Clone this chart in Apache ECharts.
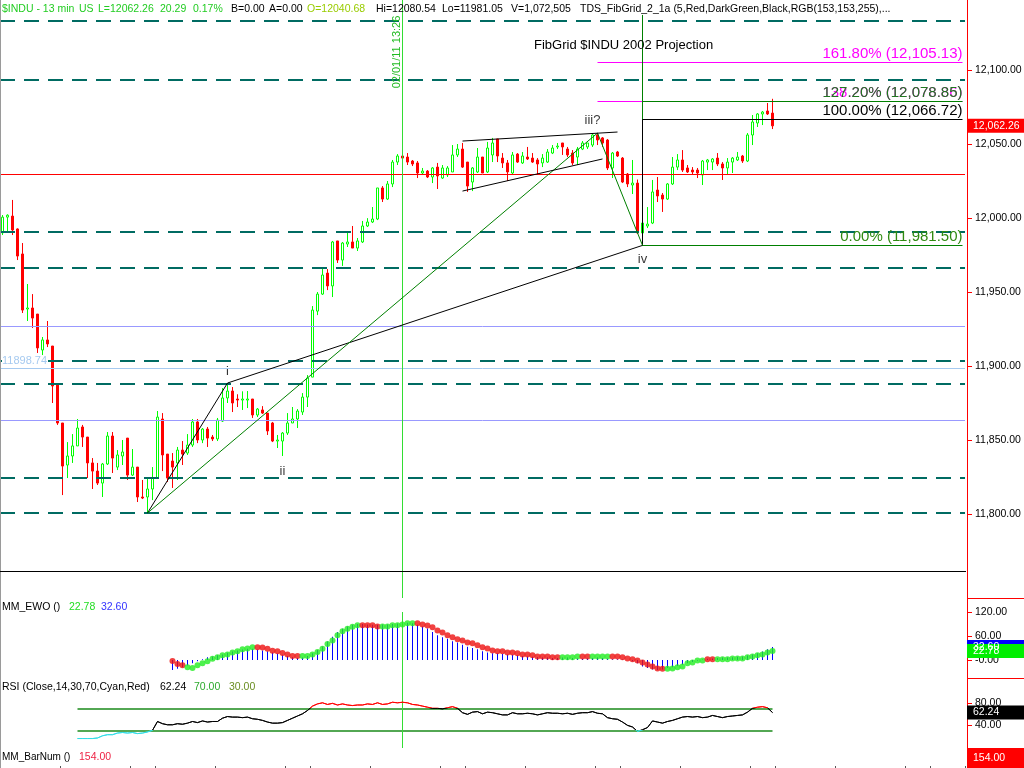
<!DOCTYPE html>
<html><head><meta charset="utf-8">
<script src="https://cdn.jsdelivr.net/npm/echarts@6/dist/echarts.min.js"></script>
<style>html,body{margin:0;padding:0;background:#fff;}#c{width:1024px;height:768px;}</style>
</head><body><div id="c"></div>
<script>
const FONT = '"Liberation Sans", Arial, sans-serif';
// category slots (bar numbers); bars 0..154 carry data
const slots = Array.from({length: 193}, (_, k) => String(k));

const open = [
11990.0,12000.6,12001.3,11992.6,11975.7,11938.5,11939.2,11935.1,11910.8,11917.6,
11913.5,11887.2,11861.5,11833.1,11839.2,11846.0,11858.8,11852.0,11834.5,11829.0,
11820.9,11833.8,11852.7,11831.7,11839.2,11851.3,11826.3,11831.7,11811.5,11811.5,
11816.9,11824.3,11864.2,11840.5,11835.8,11834.5,11843.2,11841.2,11846.6,11862.2,
11850.0,11857.4,11852.0,11850.7,11862.8,11878.4,11883.1,11877.7,11877.0,11877.0,
11877.7,11866.9,11870.3,11868.2,11861.5,11849.3,11849.3,11854.7,11861.5,11864.2,
11868.9,11879.0,11892.5,11937.1,11948.6,11962.8,11954.1,11984.5,11971.6,11982.4,
11983.8,11979.7,11983.8,11994.6,11997.3,11999.3,12020.3,12012.8,12023.0,12037.8,
12041.9,12041.2,12038.5,12037.2,12030.4,12031.7,12027.7,12034.4,12027.0,12029.1,
12031.1,12042.6,12046.6,12037.8,12024.3,12031.1,12041.2,12031.1,12042.6,12053.4,
12040.5,12037.2,12030.4,12043.2,12037.2,12041.2,12040.5,12039.2,12037.2,12037.8,
12043.9,12048.0,12050.7,12046.6,12043.9,12041.2,12046.6,12048.0,12049.3,12056.1,
12054.1,12052.7,12033.8,12044.6,12040.5,12029.7,12022.3,12023.6,11989.9,11994.6,
11996.6,12018.9,12015.5,12012.8,12023.0,12034.4,12039.2,12033.8,12032.4,12032.4,
12029.1,12037.8,12037.8,12040.5,12036.5,12033.8,12037.8,12039.2,12041.9,12038.5,
12056.1,12064.2,12070.3,12072.3,12070.9];
const high = [
12002.0,12002.5,12012.2,11993.0,11983.1,11955.4,11948.6,11935.1,11919.6,11930.4,
11913.5,11887.2,11861.5,11848.6,11854.0,11864.2,11860.2,11852.0,11837.8,11834.5,
11834.5,11855.4,11855.4,11843.2,11850.0,11851.3,11843.9,11831.7,11823.0,11825.0,
11831.7,11869.6,11868.2,11840.5,11841.2,11845.3,11849.3,11854.0,11864.2,11864.2,
11858.1,11858.8,11853.4,11864.9,11885.1,11888.5,11885.8,11880.9,11882.9,11883.1,
11877.7,11871.6,11872.9,11868.2,11862.2,11853.4,11855.4,11868.2,11872.3,11870.9,
11881.7,11893.9,11940.5,11950.0,11966.2,11965.5,11984.5,11984.5,11983.8,11990.5,
11994.6,11986.5,11998.0,11999.9,12007.4,12020.3,12021.6,12025.0,12039.2,12043.2,
12042.6,12043.9,12039.2,12038.5,12033.8,12032.4,12034.4,12037.2,12035.8,12035.1,
12049.3,12050.0,12050.7,12037.8,12034.4,12047.3,12041.2,12051.4,12054.1,12053.4,
12043.9,12039.2,12044.6,12043.9,12044.6,12048.0,12043.9,12040.5,12043.2,12046.6,
12049.3,12050.7,12050.7,12048.0,12045.9,12048.0,12052.0,12050.7,12057.4,12057.4,
12054.7,12053.4,12044.6,12045.3,12041.2,12030.4,12039.2,12026.0,11996.6,12007.4,
12025.7,12027.7,12016.9,12023.6,12041.2,12043.2,12045.9,12035.8,12034.4,12033.8,
12039.2,12039.9,12040.5,12043.9,12037.8,12040.5,12041.2,12044.6,12042.6,12057.4,
12069.6,12070.9,12072.3,12077.7,12080.54];
const low = [
11988.5,11990.5,11988.5,11971.6,11935.8,11930.4,11925.7,11908.8,11907.4,11912.8,
11875.0,11860.2,11812.8,11824.3,11834.5,11846.0,11845.3,11824.3,11816.9,11819.6,
11811.5,11833.1,11827.7,11829.7,11833.1,11823.0,11825.7,11808.1,11810.1,11800.7,
11809.4,11824.3,11829.0,11821.6,11817.6,11823.0,11833.1,11839.9,11845.3,11847.9,
11847.9,11845.3,11849.3,11849.3,11862.2,11875.0,11868.9,11872.3,11870.3,11871.6,
11864.9,11865.5,11867.6,11853.4,11848.6,11844.6,11839.2,11853.4,11861.5,11858.1,
11866.9,11872.3,11892.5,11934.4,11948.0,11951.3,11946.6,11969.6,11967.6,11980.4,
11979.7,11977.7,11983.1,11993.9,11996.6,11998.6,12010.8,12012.2,12020.9,12035.8,
12035.8,12035.8,12035.1,12027.0,12029.7,12027.0,12023.6,12019.6,12026.4,12027.7,
12031.1,12041.2,12033.8,12017.6,12018.2,12030.4,12030.4,12030.4,12037.8,12037.8,
12033.8,12025.0,12029.7,12037.2,12036.5,12039.2,12037.2,12029.7,12034.4,12037.2,
12043.2,12046.6,12042.6,12041.2,12035.8,12035.8,12045.9,12046.6,12048.0,12049.3,
12048.0,12032.4,12027.0,12041.2,12023.6,12020.9,12016.2,11989.2,11981.05,11993.2,
11995.9,12010.8,12004.1,12012.2,12022.3,12032.4,12031.1,12030.4,12029.1,12027.0,
12022.3,12032.4,12032.4,12035.1,12025.7,12029.1,12030.4,12038.5,12037.2,12037.8,
12049.3,12061.5,12062.8,12069.6,12060.1];
const close = [
12000.6,12001.9,11991.9,11974.3,11937.8,11939.2,11932.4,11912.2,11917.6,11914.9,
11886.5,11861.5,11832.4,11839.2,11846.0,11858.1,11852.0,11834.5,11829.0,11820.9,
11833.8,11852.7,11837.8,11839.9,11841.9,11826.3,11831.7,11811.5,11810.8,11816.9,
11824.3,11865.5,11839.9,11824.3,11831.7,11843.2,11840.5,11846.6,11862.2,11850.0,
11857.4,11851.3,11850.7,11863.5,11878.4,11883.1,11875.0,11877.0,11877.7,11877.7,
11866.9,11870.9,11868.2,11856.1,11849.3,11850.0,11854.7,11861.5,11864.2,11869.6,
11879.0,11891.9,11937.8,11948.6,11961.5,11954.1,11983.8,11971.6,11983.1,11983.8,
11979.7,11984.5,11994.6,11997.3,11999.3,12020.3,12012.8,12023.0,12037.8,12041.9,
12040.5,12037.8,12036.5,12030.4,12031.7,12027.7,12033.8,12028.4,12033.8,12033.8,
12042.6,12046.6,12034.4,12021.6,12033.8,12041.2,12030.4,12047.3,12050.7,12041.9,
12037.2,12031.1,12042.6,12037.8,12041.9,12039.9,12037.8,12036.5,12040.5,12044.6,
12047.3,12048.6,12048.0,12042.6,12037.2,12046.6,12050.7,12050.7,12056.1,12052.7,
12050.7,12033.8,12043.9,12041.9,12024.3,12023.0,12023.6,11989.9,11996.6,11995.9,
12017.6,12014.9,12012.8,12023.0,12034.4,12039.2,12032.4,12031.1,12031.1,12030.4,
12038.5,12039.2,12039.9,12036.5,12033.8,12037.8,12040.5,12041.2,12038.5,12056.1,
12064.9,12070.3,12071.6,12070.3,12062.26];

// MM_EWO (from bar 34)
const ewoStart = 34;
const ewoHist = [
-25,-22,-18,-14,-8,-3,2,7,9,12,
14,18,21,24,26,28,28,26,24,22,
19,16,13,10,7,5,6,10,17,25,
34,46,58,70,78,84,88,90,90,89,
88,88,89,89,90,91,92,93,92,88,
84,79,70,62,57,53,47,44,38,33,
30,27,22,19,17,17,15,14,13,12,
10,9,8,7,6,6,5,5,6,6,
5,4,3,4,5,6,5,3,2,2,
1,0,-3,-8,-16,-20,-24,-25,-24,-20,
-18,-15,-12,-8,-5,-2,1,3,4,5,
6,6,7,8,9,11,14,17,21,27,
32.6];
const ewoSignal = [
-2.5,-10,-13,-18,-20,-13,-8,-3,3,7,
12,14,19,22,27,29,32,32,31,28,
23,22,17.5,14,10,10,10,10,14,20,
28,40,49,62,72,78,83,87,87,87,
87,84,84,84,87,87,89,92,92,92,
89,86,82,74,69,62,57,52,49,44,
42,37,32,29,24,22,22,19,19,17,
14,14,12,9,9,9,7,7,7,7,
7,9,9,9,9,9,9,9,9,9,
7,4,2,-1,-6,-11,-16,-21,-22,-22,
-21,-18,-16,-8,-6,-1,-1,2,2,2,
2,2,4,4,4,7,9,12,14,19,
22.78];
const ewoRising = [
0,0,0,1,1,1,1,1,1,1,
1,1,1,1,1,1,1,0,0,0,
0,0,0,0,0,0,1,1,1,1,
1,1,1,1,1,1,1,1,0,0,
0,0,1,1,1,1,1,1,1,0,
0,0,0,0,0,0,0,0,0,0,
0,0,0,0,0,0,0,0,0,0,
0,0,0,0,0,0,0,0,1,1,
1,1,0,0,1,1,1,1,0,0,
0,0,0,0,0,0,0,0,0,1,
1,1,1,1,1,1,1,0,0,1,
1,1,1,1,1,1,1,1,1,1,
1];

// RSI (from bar 15)
const rsiStart = 15;
const rsi = [
15,15,15,15,16,20,22,22,25,26,
25,26,24,25,27,30,46,42,40,40,
42,41,43,46,44,47,45,46,46,52,
55,54,54,53,54,51,50,48,45,43,
43,44,48,52,56,60,66,74,78,80,
77,79,76,78,76,75,76,76,78,77,
80,77,78,81,80,81,80,77,76,74,
72,70,70,69,71,73,70,62,59,63,
64,60,63,62,60,58,58,62,60,60,
61,60,58,60,62,61,61,60,61,59,
61,62,62,64,61,60,53,51,50,45,
39,36,28,31,35,47,45,43,46,48,
51,54,55,54,55,53,54,57,55,53,
55,56,57,58,63,70,72,73,71,62.24];

const priceTicks = [11800, 11850, 11900, 11950, 12000, 12050, 12100];
const ewoTicks = [0, 60, 120];
const rsiTicks = [40, 80];
const timeTickBars = [12, 26, 31, 43, 57, 62, 74, 88, 93, 105, 119, 124, 136, 150, 155, 167, 181, 186];

// horizontal grid levels of the FibGrid
const dashedLevels = [12133.1, 12093.2, 11990.5, 11966.2, 11903.4, 11887.8, 11824.3, 11800.7];
const redLevel = 12029.7;
const purpleLevels = [11927.0, 11863.5];
const blueLevel = 11898.74;
// fib projection
const fibNames = ['161.80%', '138.20%', '127.20%', '100.00%', '0.00%'];
const fibValues = [12105.13, 12078.86, 12078.85, 12066.72, 11981.50];
const fibFromBars = [119, 119, 128, 128, 128];
const fibToBar = 192;
const fibAnchorBar = 128;
const fibAnchorTop = 12137.2;
const markerBar = 80;
// wave pivots: 0, i, iii?, iv
const pivotBars = [29, 45, 119, 128];
const pivotPrices = [11800.7, 11888.5, 12057.4, 11981.5];
const wedgeBars = [92, 123, 92, 120];
const wedgePrices = [12052.0, 12058.1, 12018.2, 12039.9];
const waveNames = ['i', 'ii', 'iii?', 'iv'];
const waveBars = [45, 56, 118, 128];
const wavePrices = [11896.6, 11829.0, 12066.2, 11972.3];

const PRICE_MAX = 12147.3, PRICE_MIN = 11743.25;

const chart = echarts.init(document.getElementById('c'));
const candleData = open.map((o, i) => [o, close[i], low[i], high[i]]);
const fmtPrice = v => v.toLocaleString('en-US', {minimumFractionDigits: 2, maximumFractionDigits: 2});

const dashed = {color: '#006b62', width: 2, type: [15, 9]};
const seg = (x1, y1, x2, y2, lineStyle, label) => [
  {coord: [x1, y1], lineStyle: lineStyle, label: label || {show: false}},
  {coord: [x2, y2]}
];
const fibColors = ['#ff00ff', '#ff00ff', '#1f7a1f', '#000000', '#2f8a10'];
const fibLineColors = ['#ff00ff', '#ff00ff', '#008000', '#000000', '#008000'];

const mainLines = [];
dashedLevels.forEach(v => mainLines.push({yAxis: v, lineStyle: dashed}));
mainLines.push({yAxis: redLevel, lineStyle: {color: '#ff0000', width: 1, type: 'solid'}});
purpleLevels.forEach(v => mainLines.push({yAxis: v, lineStyle: {color: 'rgb(153,153,255)', width: 1, type: 'solid'}}));
mainLines.push({yAxis: blueLevel, lineStyle: {color: '#a6caf0', width: 1, type: 'solid'},
  label: {show: true, position: 'insideStartTop', formatter: String(blueLevel), color: '#a6caf0',
    fontSize: 11, fontFamily: FONT, backgroundColor: '#ffffff', distance: [2, 1]}});
mainLines.push({xAxis: markerBar, lineStyle: {color: '#33dd33', width: 1, type: 'solid'}});
fibValues.forEach((v, k) => {
  mainLines.push(seg(fibFromBars[k], v, fibToBar, v, {color: fibLineColors[k], width: 1, type: 'solid'},
    {show: true, position: 'insideEndTop', formatter: fibNames[k] + ' (' + fmtPrice(v) + ')',
     color: fibColors[k], fontSize: 15, fontFamily: FONT, distance: [0, 1]}));
});
mainLines.push(seg(fibAnchorBar, fibAnchorTop, fibAnchorBar, fibValues[4], {color: '#008000', width: 1, type: 'solid'}));
mainLines.push(seg(fibAnchorBar, fibValues[3], fibAnchorBar, fibValues[4], {color: '#000000', width: 1, type: 'solid'}));
// wave lines
const blk = {color: '#000000', width: 1, type: 'solid'};
const grn = {color: '#008000', width: 1, type: 'solid'};
mainLines.push(seg(pivotBars[0], pivotPrices[0], pivotBars[1], pivotPrices[1], blk));
mainLines.push(seg(pivotBars[1], pivotPrices[1], pivotBars[3], pivotPrices[3], blk));
mainLines.push(seg(pivotBars[0], pivotPrices[0], pivotBars[2], pivotPrices[2], grn));
mainLines.push(seg(pivotBars[2], pivotPrices[2], pivotBars[3], pivotPrices[3], grn));
mainLines.push(seg(wedgeBars[0], wedgePrices[0], wedgeBars[1], wedgePrices[1], blk));
mainLines.push(seg(wedgeBars[2], wedgePrices[2], wedgeBars[3], wedgePrices[3], blk));

const gridBase = {left: 0, width: 965, containLabel: false, outerBoundsMode: 'none', show: false};
const hiddenX = gi => ({type: 'category', gridIndex: gi, data: slots, boundaryGap: true, show: false});
const axisLbl = (fmt, cv) => ({customValues: cv, formatter: fmt, color: '#000', fontSize: 10.5, fontFamily: FONT, margin: 8});
const axisTk = cv => ({show: true, customValues: cv, length: 5, lineStyle: {color: '#ff0000', width: 1}});

const option = {
  animation: false,
  backgroundColor: '#ffffff',
  grid: [
    Object.assign({top: 0, height: 598}, gridBase),
    Object.assign({top: 598, height: 80}, gridBase),
    Object.assign({top: 678, height: 70}, gridBase),
    Object.assign({top: 748, height: 18}, gridBase)
  ],
  xAxis: [hiddenX(0), hiddenX(1), hiddenX(2), {
    type: 'category', gridIndex: 3, data: slots, boundaryGap: true, position: 'bottom',
    axisLine: {show: false}, axisLabel: {show: false}, splitLine: {show: false},
    axisTick: {show: true, length: 3, interval: idx => timeTickBars.indexOf(idx) >= 0, lineStyle: {color: '#555'}}
  }],
  yAxis: [
    {type: 'value', gridIndex: 0, position: 'right', offset: 2, min: PRICE_MIN, max: PRICE_MAX,
     splitLine: {show: false}, axisLine: {show: false}, axisTick: axisTk(priceTicks), axisLabel: axisLbl(fmtPrice, priceTicks)},
    {type: 'value', gridIndex: 1, position: 'right', offset: 2, min: -45, max: 155,
     splitLine: {show: false}, axisLine: {show: false}, axisTick: axisTk(ewoTicks),
     axisLabel: axisLbl(v => v === 0 ? '-0.00' : v.toFixed(2), ewoTicks)},
    {type: 'value', gridIndex: 2, position: 'right', offset: 2, min: -2.2, max: 125.1,
     splitLine: {show: false}, axisLine: {show: false}, axisTick: axisTk(rsiTicks),
     axisLabel: axisLbl(v => v.toFixed(2), rsiTicks)},
    {type: 'value', gridIndex: 3, min: 0, max: 1, show: false}
  ],
  visualMap: [{
    type: 'piecewise', show: false, seriesIndex: 4, dimension: 1,
    pieces: [{lt: 30, color: '#33dde6'}, {gte: 30, lte: 70, color: '#000000'}, {gt: 70, color: '#ff0000'}]
  }],
  series: [
    {
      type: 'candlestick', xAxisIndex: 0, yAxisIndex: 0, data: candleData, barWidth: 3,
      itemStyle: {color: '#ffffff', color0: '#ff0000', borderColor: '#00ff00', borderColor0: '#ff0000', borderWidth: 1},
      markLine: {symbol: ['none', 'none'], silent: true, animation: false, label: {show: false}, data: mainLines}
    },
    {
      type: 'scatter', xAxisIndex: 0, yAxisIndex: 0, symbolSize: 1, itemStyle: {color: 'rgba(0,0,0,0)'},
      data: waveNames.map((n, k) => ({name: n, value: [waveBars[k], wavePrices[k]]})),
      label: {show: true, position: 'inside', formatter: p => p.name, color: '#000', fontSize: 13, fontFamily: FONT},
      silent: true
    },
    {
      type: 'bar', xAxisIndex: 1, yAxisIndex: 1, barWidth: 1,
      data: ewoHist.map((v, k) => [k + ewoStart, v]), itemStyle: {color: '#0000ff'},
      markLine: {symbol: ['none', 'none'], silent: true, label: {show: false},
        data: [seg(markerBar, 120, markerBar, -45, {color: '#33dd33', width: 1, type: 'solid'})]}
    },
    {
      type: 'scatter', xAxisIndex: 1, yAxisIndex: 1, symbol: 'circle', symbolSize: 6,
      data: ewoSignal.map((v, k) => [k + ewoStart, v]),
      itemStyle: {color: p => ewoRising[p.dataIndex] ? '#22ee22' : '#ee1111'}, z: 5
    },
    {
      type: 'line', xAxisIndex: 2, yAxisIndex: 2, showSymbol: false, symbol: 'none',
      data: rsi.map((v, k) => [k + rsiStart, v]), lineStyle: {width: 1}, z: 5
    },
    {
      type: 'line', xAxisIndex: 2, yAxisIndex: 2, data: [], symbol: 'none',
      markLine: {symbol: ['none', 'none'], silent: true, label: {show: false}, data: [
        seg(rsiStart, 70, 154, 70, {color: '#1a8a1a', width: 1.5, type: 'solid'}),
        seg(rsiStart, 30, 154, 30, {color: '#1a8a1a', width: 1.5, type: 'solid'}),
        {xAxis: markerBar, lineStyle: {color: '#33dd33', width: 1, type: 'solid'}}
      ]}
    }
  ]
};
chart.setOption(option);

// decorations and value boxes
const T = (text, x, y, fill, size, extra) => Object.assign({type: 'text', x: x, y: y, z: 50,
  style: {text: text, fill: fill, fontSize: size || 10.5, fontFamily: FONT, verticalAlign: 'middle', align: 'left'}}, extra || {});
const L = (x1, y1, x2, y2, stroke, w) => ({type: 'line', z: 40, shape: {x1, y1, x2, y2}, style: {stroke: stroke, lineWidth: w || 1}});
const box = (yc, h, fill, text) => [
  {type: 'rect', z: 100, shape: {x: 967, y: yc - h / 2, width: 57, height: h}, style: {fill: fill}},
  {type: 'text', z: 101, x: 973, y: yc, style: {text: text, fill: '#ffffff', fontSize: 10.5, fontFamily: FONT, verticalAlign: 'middle'}}
];
const last = close.length - 1;
const yPrice = chart.convertToPixel({yAxisIndex: 0}, close[last]);
const yHist = chart.convertToPixel({yAxisIndex: 1}, ewoHist[ewoHist.length - 1]);
const ySig = chart.convertToPixel({yAxisIndex: 1}, ewoSignal[ewoSignal.length - 1]);
const yRsi = chart.convertToPixel({yAxisIndex: 2}, rsi[rsi.length - 1]);

const G = '#22cc22';
const graphics = [
  L(0.5, 0, 0.5, 768, '#9a9a9a'),
  L(0, 571.5, 966, 571.5, '#000000'),
  L(967.5, 0, 967.5, 768, '#ff0000'),
  L(967, 598.5, 1024, 598.5, '#ff0000'),
  L(967, 678.5, 1024, 678.5, '#ff0000'),
  L(967, 748.5, 1024, 748.5, '#ff0000'),
  T('$INDU - 13 min', 2, 9, G), T('US', 79, 9, G), T('L=12062.26', 98, 9, G), T('20.29', 160, 9, G), T('0.17%', 193, 9, G),
  T('B=0.00', 231, 9, '#000'), T('A=0.00', 269, 9, '#000'), T('O=12040.68', 307, 9, '#99cc00'),
  T('Hi=12080.54', 376, 9, '#000'), T('Lo=11981.05', 442, 9, '#000'), T('V=1,072,505', 511, 9, '#000'),
  T('TDS_FibGrid_2_1a (5,Red,DarkGreen,Black,RGB(153,153,255),...', 580, 9, '#000'),
  T('FibGrid $INDU 2002 Projection', 534, 45, '#000', 13),
  {type: 'text', x: 397, y: 52, rotation: Math.PI / 2, z: 50,
   style: {text: '02/01/11 13:26', fill: '#22bb22', fontSize: 11, fontFamily: FONT, align: 'center', verticalAlign: 'middle'}},
  T('MM_EWO ()', 2, 607, '#000'), T('22.78', 69, 607, '#22dd22'), T('32.60', 101, 607, '#3333ff'),
  T('RSI (Close,14,30,70,Cyan,Red)', 2, 687, '#000'), T('62.24', 160, 687, '#000'), T('70.00', 194, 687, '#2eaa2e'), T('30.00', 229, 687, '#6b8e23'),
  T('MM_BarNum ()', 2, 757, '#000', 10), T('154.00', 79, 757, '#ee2244')
].concat(
  box(yPrice, 14, '#ff0000', fmtPrice(close[last])),
  box(yHist, 14, '#0000ff', ewoHist[ewoHist.length - 1].toFixed(2)),
  box(ySig, 14, '#00ee00', ewoSignal[ewoSignal.length - 1].toFixed(2)),
  box(yRsi, 14, '#000000', rsi[rsi.length - 1].toFixed(2)),
  box(758.5, 19, '#ff0000', String(last) + '.00')
);
chart.setOption({graphic: {elements: graphics}});
</script></body></html>
